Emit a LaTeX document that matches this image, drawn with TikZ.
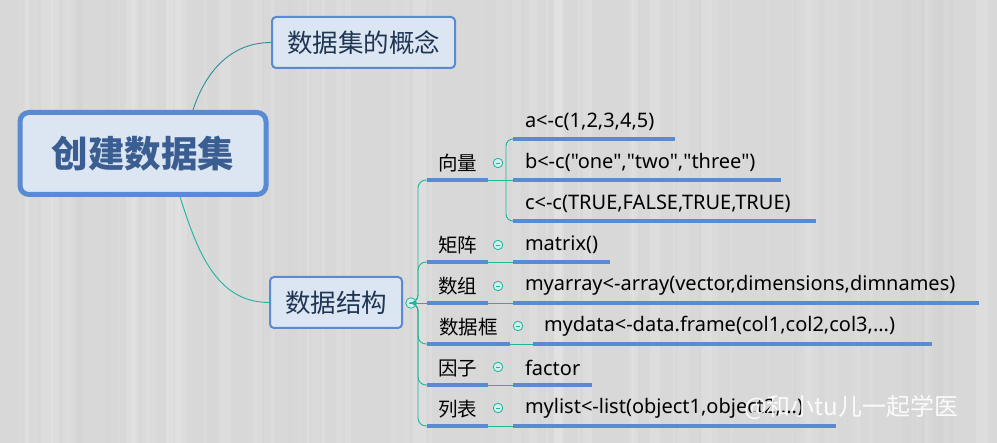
\documentclass[tikz,border=0pt]{standalone}
\usepackage{fontspec}
\setmainfont{Noto Sans CJK SC}
\newfontfamily\code{Noto Sans}
\usetikzlibrary{positioning}
\definecolor{boxfill}{HTML}{DCE6F2}
\definecolor{boxline}{HTML}{5A8AD2}
\definecolor{ink}{HTML}{1F3553}
\definecolor{inkroot}{HTML}{3A5E92}
\definecolor{linkc}{HTML}{1DB59C}
\definecolor{linkd}{HTML}{2F8E9C}
\definecolor{wood}{HTML}{D8D8D8}
\begin{document}
\begin{tikzpicture}[x=1pt, y=-1pt,
  box/.style = {draw=boxline, fill=boxfill, rounded corners=4, line width=2, text=ink, inner sep=0, font=\fontsize{25.5}{25.5}\selectfont},
  root/.style = {box, line width=5, rounded corners=9, text=inkroot, font=\fontsize{36.5}{36.5}\selectfont\bfseries},
  lab/.style = {anchor=south west, inner sep=0, outer sep=0, minimum height=34, minimum width=61, font=\fontsize{19.5}{19.5}\selectfont},
  leaf/.style = {anchor=south west, inner ysep=0, inner xsep=12, outer sep=0, minimum height=35, text width=#1, align=left, font=\code\fontsize{20}{20}\selectfont},
  uline/.style = {draw=boxline, line width=3.2},
  link/.style = {draw=linkc, line width=0.9},
  fold/.style = {circle, draw=linkc, fill=white!80!linkc, line width=0.8, minimum size=9.5, inner sep=0,
    path picture={\draw[linkc, line width=0.8] ([xshift=-2.2]path picture bounding box.center) -- ([xshift=2.2]path picture bounding box.center);}}]
\useasboundingbox (0,0) rectangle (997,443);
\fill[wood] (0,0) rectangle (997,443);
\pgfmathsetseed{17}
\foreach \i in {1,...,110} {
  \pgfmathsetmacro\xx{rnd*997}
  \pgfmathsetmacro\ww{1+rnd*12}
  \pgfmathsetmacro\gg{80+rnd*18}
  \fill[white!\gg!black, opacity=0.18] (\xx,0) rectangle ++(\ww,443);
}

\node[root, minimum width=246, minimum height=82] (root) at (143,153.5) {创建数据集};
\node[box, minimum width=183, minimum height=51] (concept) at (363.5,42.5) {数据集的概念};
\node[box, minimum width=132, minimum height=51] (struct) at (336,302.5) {数据结构};
\node[fold, minimum size=10.5] (f0) at (411,303) {};

\node[lab] (vec) at (427,180) {向量};
\node[lab] (mat) at (427,262) {矩阵};
\node[lab] (arr) at (427,303) {数组};
\node[lab, minimum width=83] (frm) at (427,344) {数据框};
\node[lab] (fac) at (427,385) {因子};
\node[lab] (lst) at (427,426) {列表};

\node[fold] (f1) at (498,163) {};
\node[fold] (f2) at (498,245) {};
\node[fold] (f3) at (498,286) {};
\node[fold] (f4) at (518,326) {};
\node[fold] (f5) at (498,367) {};
\node[fold] (f6) at (498,408) {};

\node[leaf=138] (a) at (513,139) {\mbox{a<-c(1,2,3,4,5)}};
\node[leaf=244] (b) at (513,180) {\mbox{b<-c("one","two","three")}};
\node[leaf=279] (c) at (513,221) {\mbox{c<-c(TRUE,FALSE,TRUE,TRUE)}};
\node[leaf=73] (m) at (513,262) {\mbox{matrix()}};
\node[leaf=442] (y) at (513,303) {\mbox{myarray<-array(vector,dimensions,dimnames)}};
\node[leaf=377, inner xsep=11] (d) at (533,344) {\mbox{mydata<-data.frame(col1,col2,col3,...)}};
\node[leaf=55] (f) at (513,385) {\mbox{factor}};
\node[leaf=299] (l) at (513,426) {\mbox{mylist<-list(object1,object2,...)}};

\foreach \n in {vec,mat,arr,frm,fac,lst,a,b,c,m,y,d,f,l}
  \draw[uline] (\n.south west) -- (\n.south east);

\coordinate (bus) at (418,303);
\coordinate (vbus) at (506,180);

\draw[link, draw=linkd] ([xshift=50]root.north) to[out=72, in=180] (concept.west);
\draw[link] ([xshift=37]root.south) to[out=-72, in=180] (struct.west);
\draw[link] (f0.east) -- (arr.south west);
\foreach \n in {vec,mat,frm,fac,lst}
  \draw[link, rounded corners=8] (f0.east) -- (bus) |- (\n.south west);

\draw[link] (vec.south east) -- (b.south west);
\draw[link, rounded corners=7] (vbus) |- (a.south west);
\draw[link, rounded corners=7] (vbus) |- (c.south west);
\draw[link] (mat.south east) -- (m.south west);
\draw[link] (arr.south east) -- (y.south west);
\draw[link] (frm.south east) -- (d.south west);
\draw[link] (fac.south east) -- (f.south west);
\draw[link] (lst.south east) -- (l.south west);

\node[anchor=west, text=white, opacity=0.9, inner sep=0, font=\fontsize{24}{24}\selectfont] (wm) at (744,407) {@和小tu儿一起学医};
\end{tikzpicture}
\end{document}
